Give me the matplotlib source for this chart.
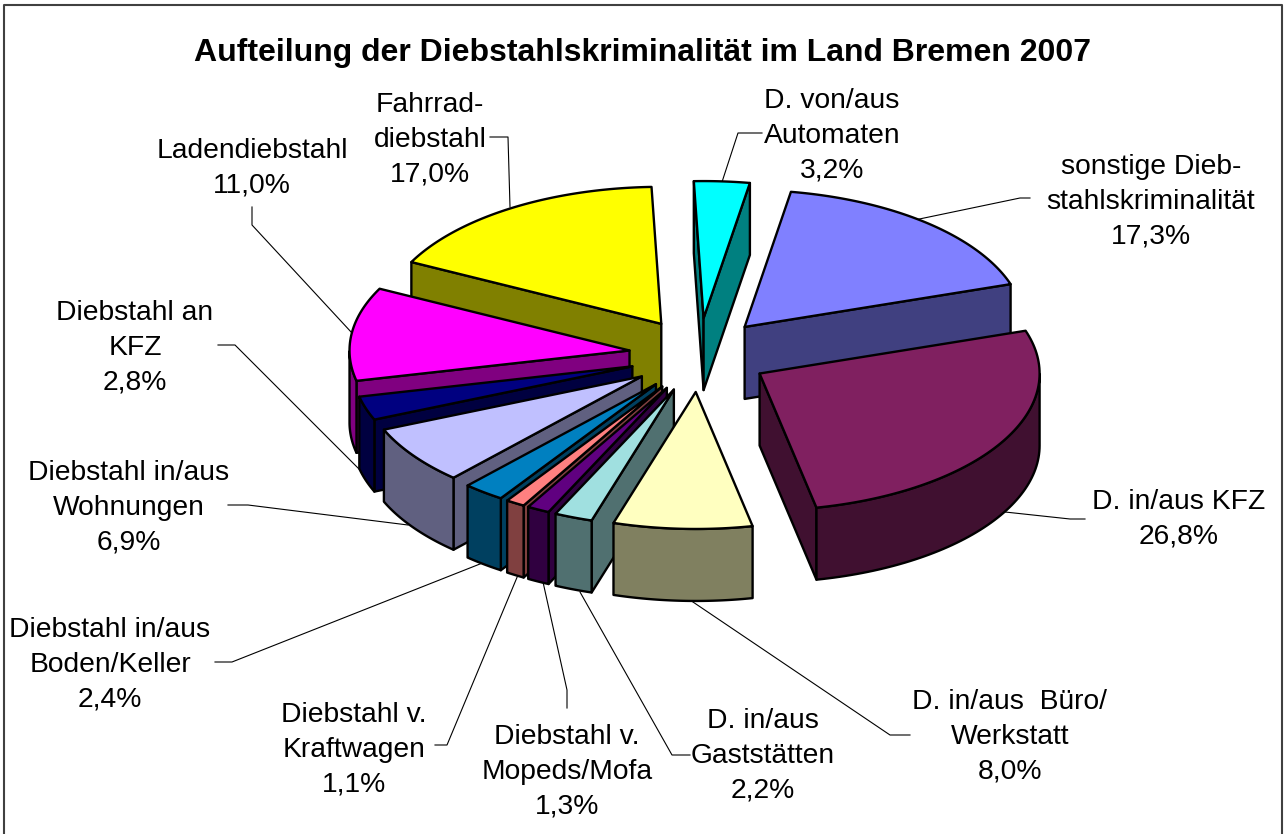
import numpy as np
import matplotlib
matplotlib.use('Agg')
import matplotlib.pyplot as plt
from matplotlib.patches import Polygon

plt.rcParams['font.family'] = ['Liberation Sans', 'DejaVu Sans']

# slices clockwise, starting at the top
labels = ['D. von/aus\nAutomaten\n3,2%', 'sonstige Dieb-\nstahlskriminalität\n17,3%',
          'D. in/aus KFZ\n26,8%', 'D. in/aus  Büro/\nWerkstatt\n8,0%',
          'D. in/aus\nGaststätten\n2,2%', 'Diebstahl v.\nMopeds/Mofa\n1,3%',
          'Diebstahl v.\nKraftwagen\n1,1%', 'Diebstahl in/aus\nBoden/Keller\n2,4%',
          'Diebstahl in/aus\nWohnungen\n6,9%', 'Diebstahl an\nKFZ\n2,8%',
          'Ladendiebstahl\n11,0%', 'Fahrrad-\ndiebstahl\n17,0%']
values = [3.2, 17.3, 26.8, 8.0, 2.2, 1.3, 1.1, 2.4, 6.9, 2.8, 11.0, 17.0]
top_colors = ['#00FFFF', '#8080FF', '#802060', '#FFFFC0', '#A0E0E0', '#600080',
              '#FF8080', '#0080C0', '#C0C0FF', '#000080', '#FF00FF', '#FFFF00']
side_colors = ['#008080', '#404080', '#401030', '#808060', '#507070', '#300040',
               '#804040', '#004060', '#606080', '#000040', '#800080', '#808000']

# label centres and leader lines, in pixels
label_pos = [(832, 136), (1151, 202), (1179, 519), (1010, 737), (763, 756), (567, 772),
             (354, 750), (110, 665), (129, 508), (135, 348), (252, 168), (430, 140)]
leaders = [[(762, 133), (738, 133), (722, 182)],
           [(1030, 198), (1020, 198), (905, 222)],
           [(1085, 519), (1070, 519), (1005, 512)],
           [(910, 735), (890, 735), (690, 600)],
           [(690, 755), (672, 755), (580, 592)],
           [(567, 708), (567, 690), (543, 582)],
           [(435, 745), (447, 745), (518, 575)],
           [(215, 662), (232, 662), (485, 562)],
           [(228, 505), (248, 505), (408, 525)],
           [(218, 345), (235, 345), (380, 490)],
           [(252, 207), (252, 225), (352, 333)],
           [(490, 137), (508, 137), (510, 207)]]

START = -2.0
CX, CY = 699, 355
RX, RY = 280, 137
EX, EY = 70, 37
DEPTH = 72
LW = 1.7

fig = plt.figure(figsize=(12.84, 8.34), dpi=100)
ax = fig.add_axes([0, 0, 1, 1])
ax.set_xlim(0, 1284)
ax.set_ylim(834, 0)
ax.axis('off')

ax.plot([4, 4, 1282, 1282], [834, 5, 5, 834], color='#404040', lw=1.5, zorder=1)
ax.text(643, 53, 'Aufteilung der Diebstahlskriminalität im Land Bremen 2007',
        fontsize=23, fontweight='bold', ha='center', va='center')

for line in leaders:
    ax.plot(*zip(*line), color='black', lw=0.8, zorder=1)

for text, pos in zip(labels, label_pos):
    ax.text(pos[0], pos[1], text, fontsize=20.3, ha='center', va='center',
            linespacing=1.44, multialignment='center')


def draw_slice(a0, a1, top, side, z):
    mid = np.radians((a0 + a1) / 2)
    ox = CX + EX * np.sin(mid)
    oy = CY - EY * np.cos(mid)
    t = np.radians(np.linspace(a0, a1, 80))
    xs = ox + RX * np.sin(t)
    ys = oy - RY * np.cos(t)

    # cut faces, only those turned to the viewer
    for i, visible in ((0, np.sin(t[0]) < 0), (-1, np.sin(t[-1]) > 0)):
        if visible:
            face = [(ox, oy), (xs[i], ys[i]), (xs[i], ys[i] + DEPTH), (ox, oy + DEPTH)]
            ax.add_patch(Polygon(face, fc=side, ec='black', lw=LW, zorder=z, joinstyle='round'))

    # outer wall, only the part turned to the viewer
    deg = np.degrees(t)
    front = (deg > 90) & (deg < 270)
    if front.any():
        wx, wy = xs[front], ys[front]
        wall = list(zip(wx, wy)) + list(zip(wx[::-1], wy[::-1] + DEPTH))
        ax.add_patch(Polygon(wall, fc=side, ec='black', lw=LW, zorder=z, joinstyle='round'))

    outline = [(ox, oy)] + list(zip(xs, ys))
    ax.add_patch(Polygon(outline, fc=top, ec='black', lw=LW, zorder=z, joinstyle='round'))


edges = START + np.cumsum([0] + values) * 360 / sum(values)
mids = (edges[:-1] + edges[1:]) / 2
# back slices first
order = np.argsort(-np.abs(mids - 180))
for n, i in enumerate(order):
    draw_slice(edges[i], edges[i + 1], top_colors[i], side_colors[i], 2 + n)

fig.savefig('out.png', dpi=100)
